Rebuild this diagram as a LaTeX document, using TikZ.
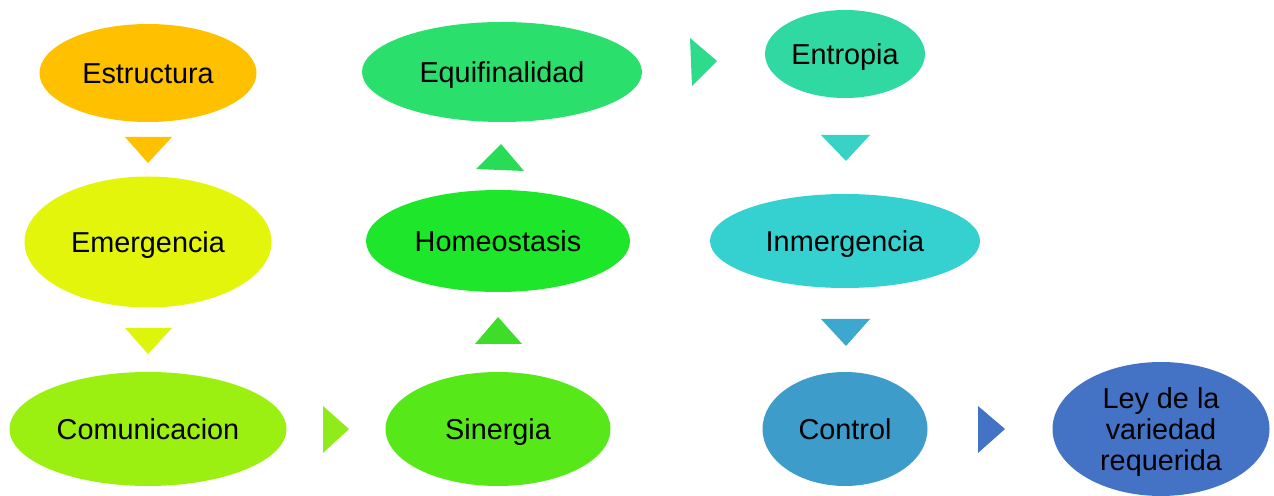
\documentclass[tikz,border=0pt]{standalone}
\usepackage{fontspec}
\setmainfont{Liberation Sans}
\usetikzlibrary{shapes.geometric}
\begin{document}
\begin{tikzpicture}[x=0.02cm,y=-0.02cm,
  bub/.style n args={3}{ellipse, fill=#1, draw=none, inner sep=0pt,
    minimum width=#2*0.02cm, minimum height=#3*0.02cm,
    font=\fontsize{16.4}{17.6}\selectfont, text=black},
  one/.style={text height=12pt, text depth=0pt},
  tri/.style={fill=#1, draw=none}]
\useasboundingbox (0,0) rectangle (1274,496);
\definecolor{cEst}{HTML}{FFC000}
\definecolor{cEme}{HTML}{E3F50A}
\definecolor{cCom}{HTML}{9BF012}
\definecolor{cSin}{HTML}{56E819}
\definecolor{cHom}{HTML}{1EE62B}
\definecolor{cEqu}{HTML}{2BDF6C}
\definecolor{cEnt}{HTML}{30D8A2}
\definecolor{cInm}{HTML}{35D1D1}
\definecolor{cCon}{HTML}{3D9CCA}
\definecolor{cLey}{HTML}{4472C4}
\definecolor{tA}{HTML}{FFC000}
\definecolor{tB}{HTML}{DDF50A}
\definecolor{tC}{HTML}{8FEB1A}
\definecolor{tD}{HTML}{3EDD2A}
\definecolor{tE}{HTML}{29DC55}
\definecolor{tF}{HTML}{2DDB8A}
\definecolor{tG}{HTML}{38D3C6}
\definecolor{tH}{HTML}{3CA8CF}
\definecolor{tI}{HTML}{4472C4}

% bubbles
\node[bub={cEst}{217}{98},one]  (est) at (148,73)  {Estructura};
\node[bub={cEme}{247}{131},one] (eme) at (148,242) {Emergencia};
\node[bub={cCom}{277}{114},one] (com) at (148,429) {Comunicacion};
\node[bub={cSin}{225}{114},one] (sin) at (498,429) {Sinergia};
\node[bub={cHom}{264}{102},one] (hom) at (498,241) {Homeostasis};
\node[bub={cEqu}{280}{100},one] (equ) at (502,72)  {Equifinalidad};
\node[bub={cEnt}{160}{88},one]  (ent) at (845,54)  {Entropia};
\node[bub={cInm}{270}{94},one]  (inm) at (845,241) {Inmergencia};
\node[bub={cCon}{165}{114},one] (con) at (845,429) {Control};
\node[bub={cLey}{217}{134}] (ley) at (1161,429) {};
\node[font=\fontsize{16.4}{17.6}\selectfont, align=center, inner sep=0pt]
  (leytext) at (1161,432) {Ley de la\\variedad\\requerida};

% arrow heads between the bubbles
\fill[tri=tA] (125,137) -- (172,137) -- (148,163) -- cycle;
\fill[tri=tB] (125,328) -- (172,328) -- (148,354) -- cycle;
\fill[tri=tC] (323,406) -- (349,429) -- (323,453) -- cycle;
\fill[tri=tD] (475,344) -- (498,317) -- (522,344) -- cycle;
\fill[tri=tE] (476,169) -- (501,144) -- (524,171) -- cycle;
\fill[tri=tF] (690,38) -- (717,61) -- (692,86) -- cycle;
\fill[tri=tG] (821,135) -- (870,135) -- (846,161) -- cycle;
\fill[tri=tH] (821,319) -- (870,319) -- (846,346) -- cycle;
\fill[tri=tI] (978,406) -- (1005,429) -- (978,453) -- cycle;
\end{tikzpicture}
\end{document}
